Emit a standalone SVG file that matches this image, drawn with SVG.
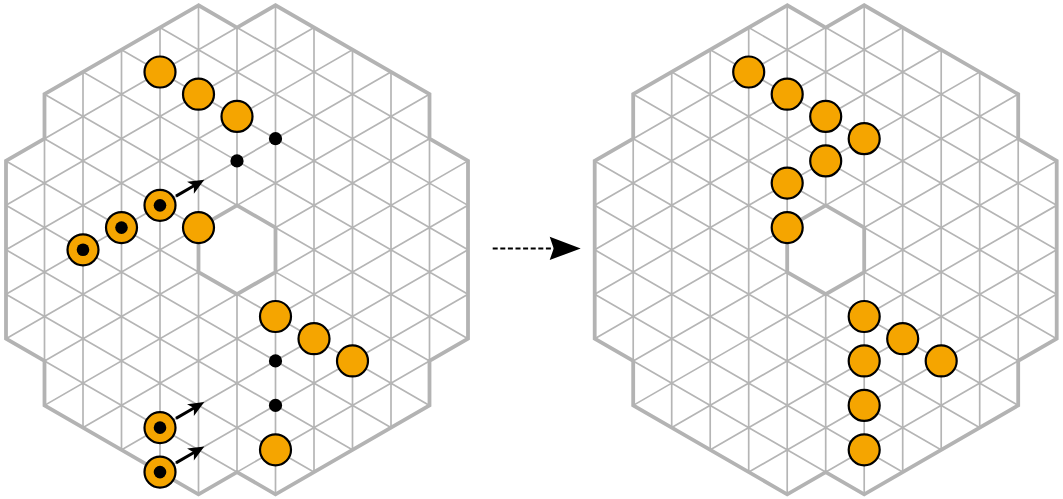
<svg xmlns="http://www.w3.org/2000/svg" xmlns:xlink="http://www.w3.org/1999/xlink" width="1063" height="499" viewBox="0 0 1063 499">
<style>
.grid{fill:none;stroke:#b5b5b5;stroke-width:1.7}
.outline{fill:none;stroke:#b3b3b3;stroke-width:3.8;stroke-linejoin:miter}
.tok{fill:#f5a500;stroke:#000;stroke-width:2.2}
.dot{fill:#000}
.arr{stroke:#000;stroke-width:3;fill:none}
.marr{stroke:#000;stroke-width:2;fill:none;stroke-dasharray:5 2.6}
</style>
<defs>
<clipPath id="clipBoard">
<path clip-rule="evenodd" d="M198.5,5.3 L44.5,94.21 L44.5,138.67 L6,160.9 L6,338.72 L44.5,360.95 L44.5,405.4 L198.5,494.32 L237,472.09 L275.5,494.32 L429.5,405.4 L429.5,360.95 L468,338.72 L468,160.9 L429.5,138.67 L429.5,94.21 L275.5,5.3 L237,27.53 Z M198.5,227.58 L237,205.35 L275.5,227.58 L275.5,272.04 L237,294.26 L198.5,272.04 Z"/>
</clipPath>
<marker id="headS" viewBox="-17 -8 18 16" markerWidth="18" markerHeight="16" refX="-11" refY="0" orient="auto" markerUnits="userSpaceOnUse">
<path d="M0,0 L-16,-6.8 L-12,0 L-16,6.8 Z" fill="#000"/>
</marker>
<marker id="headL" viewBox="-33 -13 34 26" markerWidth="34" markerHeight="26" refX="-27" refY="0" orient="auto" markerUnits="userSpaceOnUse">
<path d="M0,0 L-31,-11.7 L-27,0 L-31,11.7 Z" fill="#000"/>
</marker>
<g id="boardShape">
<g clip-path="url(#clipBoard)">
<path class="grid" d="M6,0V499 M44.5,0V499 M83,0V499 M121.5,0V499 M160,0V499 M198.5,0V499 M237,0V499 M275.5,0V499 M314,0V499 M352.5,0V499 M391,0V499 M429.5,0V499 M468,0V499
M6,-239.21L468,27.53 M6,-194.75L468,71.99 M6,-150.3L468,116.44 M6,-105.84L468,160.9 M6,-61.38L468,205.36 M6,-16.93L468,249.81 M6,27.53L468,294.27 M6,71.98L468,338.72 M6,116.44L468,383.18 M6,160.9L468,427.64 M6,205.35L468,472.09 M6,249.81L468,516.55 M6,294.26L468,561 M6,338.72L468,605.46 M6,383.18L468,649.92 M6,427.63L468,694.37 M6,472.09L468,738.83
M6,27.53L468,-239.21 M6,71.98L468,-194.76 M6,116.44L468,-150.3 M6,160.9L468,-105.84 M6,205.35L468,-61.39 M6,249.81L468,-16.93 M6,294.26L468,27.52 M6,338.72L468,71.98 M6,383.18L468,116.44 M6,427.63L468,160.89 M6,472.09L468,205.35 M6,516.54L468,249.8 M6,561L468,294.26 M6,605.46L468,338.72 M6,649.91L468,383.17 M6,694.37L468,427.63 M6,738.82L468,472.08"/>
</g>
<path class="outline" d="M198.5,5.3 L44.5,94.21 L44.5,138.67 L6,160.9 L6,338.72 L44.5,360.95 L44.5,405.4 L198.5,494.32 L237,472.09 L275.5,494.32 L429.5,405.4 L429.5,360.95 L468,338.72 L468,160.9 L429.5,138.67 L429.5,94.21 L275.5,5.3 L237,27.53 Z M198.5,227.58 L237,205.35 L275.5,227.58 L275.5,272.04 L237,294.26 L198.5,272.04 Z"/>
</g>
</defs>

<g id="board-left"><use xlink:href="#boardShape" href="#boardShape"/></g>
<g id="board-right"><use xlink:href="#boardShape" href="#boardShape" transform="translate(588.7 0)"/></g>

<g id="connectors">
<line class="arr" x1="176" y1="196.1" x2="194.8" y2="185.25" marker-end="url(#headS)"/>
<line class="arr" x1="176" y1="418.38" x2="194.8" y2="407.53" marker-end="url(#headS)"/>
<line class="arr" x1="176" y1="462.84" x2="194.8" y2="451.99" marker-end="url(#headS)"/>
<line class="marr" x1="492.7" y1="248.4" x2="553.7" y2="248.4" marker-end="url(#headL)"/>
</g>

<g id="left-nodes">
<g id="L-t1"><circle class="tok" cx="160" cy="71.98" r="15.5"/></g>
<g id="L-t2"><circle class="tok" cx="198.5" cy="94.21" r="15.5"/></g>
<g id="L-t3"><circle class="tok" cx="237" cy="116.44" r="15.5"/></g>
<g id="L-t4"><circle class="tok" cx="198.5" cy="227.58" r="15.5"/></g>
<g id="L-t5"><circle class="tok" cx="275.5" cy="316.49" r="15.5"/></g>
<g id="L-t6"><circle class="tok" cx="314" cy="338.72" r="15.5"/></g>
<g id="L-t7"><circle class="tok" cx="352.5" cy="360.95" r="15.5"/></g>
<g id="L-t8"><circle class="tok" cx="275.5" cy="449.86" r="15.5"/></g>
<g id="L-m1"><circle class="tok" cx="83" cy="249.81" r="15.5"/><circle class="dot" cx="83" cy="249.81" r="6.3"/></g>
<g id="L-m2"><circle class="tok" cx="121.5" cy="227.58" r="15.5"/><circle class="dot" cx="121.5" cy="227.58" r="6.3"/></g>
<g id="L-m3"><circle class="tok" cx="160" cy="205.35" r="15.5"/><circle class="dot" cx="160" cy="205.35" r="6.3"/></g>
<g id="L-m4"><circle class="tok" cx="160" cy="427.63" r="15.5"/><circle class="dot" cx="160" cy="427.63" r="6.3"/></g>
<g id="L-m5"><circle class="tok" cx="160" cy="472.09" r="15.5"/><circle class="dot" cx="160" cy="472.09" r="6.3"/></g>
<g id="L-d1"><circle class="dot" cx="275.5" cy="138.67" r="6.6"/></g>
<g id="L-d2"><circle class="dot" cx="237" cy="160.9" r="6.6"/></g>
<g id="L-d3"><circle class="dot" cx="275.5" cy="360.95" r="6.6"/></g>
<g id="L-d4"><circle class="dot" cx="275.5" cy="405.4" r="6.6"/></g>
</g>

<g id="right-nodes">
<g id="R-t1"><circle class="tok" cx="748.7" cy="71.98" r="15.5"/></g>
<g id="R-t2"><circle class="tok" cx="787.2" cy="94.21" r="15.5"/></g>
<g id="R-t3"><circle class="tok" cx="825.7" cy="116.44" r="15.5"/></g>
<g id="R-t4"><circle class="tok" cx="864.2" cy="138.67" r="15.5"/></g>
<g id="R-t5"><circle class="tok" cx="825.7" cy="160.9" r="15.5"/></g>
<g id="R-t6"><circle class="tok" cx="787.2" cy="183.12" r="15.5"/></g>
<g id="R-t7"><circle class="tok" cx="787.2" cy="227.58" r="15.5"/></g>
<g id="R-t8"><circle class="tok" cx="864.2" cy="316.49" r="15.5"/></g>
<g id="R-t9"><circle class="tok" cx="902.7" cy="338.72" r="15.5"/></g>
<g id="R-t10"><circle class="tok" cx="941.2" cy="360.95" r="15.5"/></g>
<g id="R-t11"><circle class="tok" cx="864.2" cy="360.95" r="15.5"/></g>
<g id="R-t12"><circle class="tok" cx="864.2" cy="405.4" r="15.5"/></g>
<g id="R-t13"><circle class="tok" cx="864.2" cy="449.86" r="15.5"/></g>
</g>
</svg>
